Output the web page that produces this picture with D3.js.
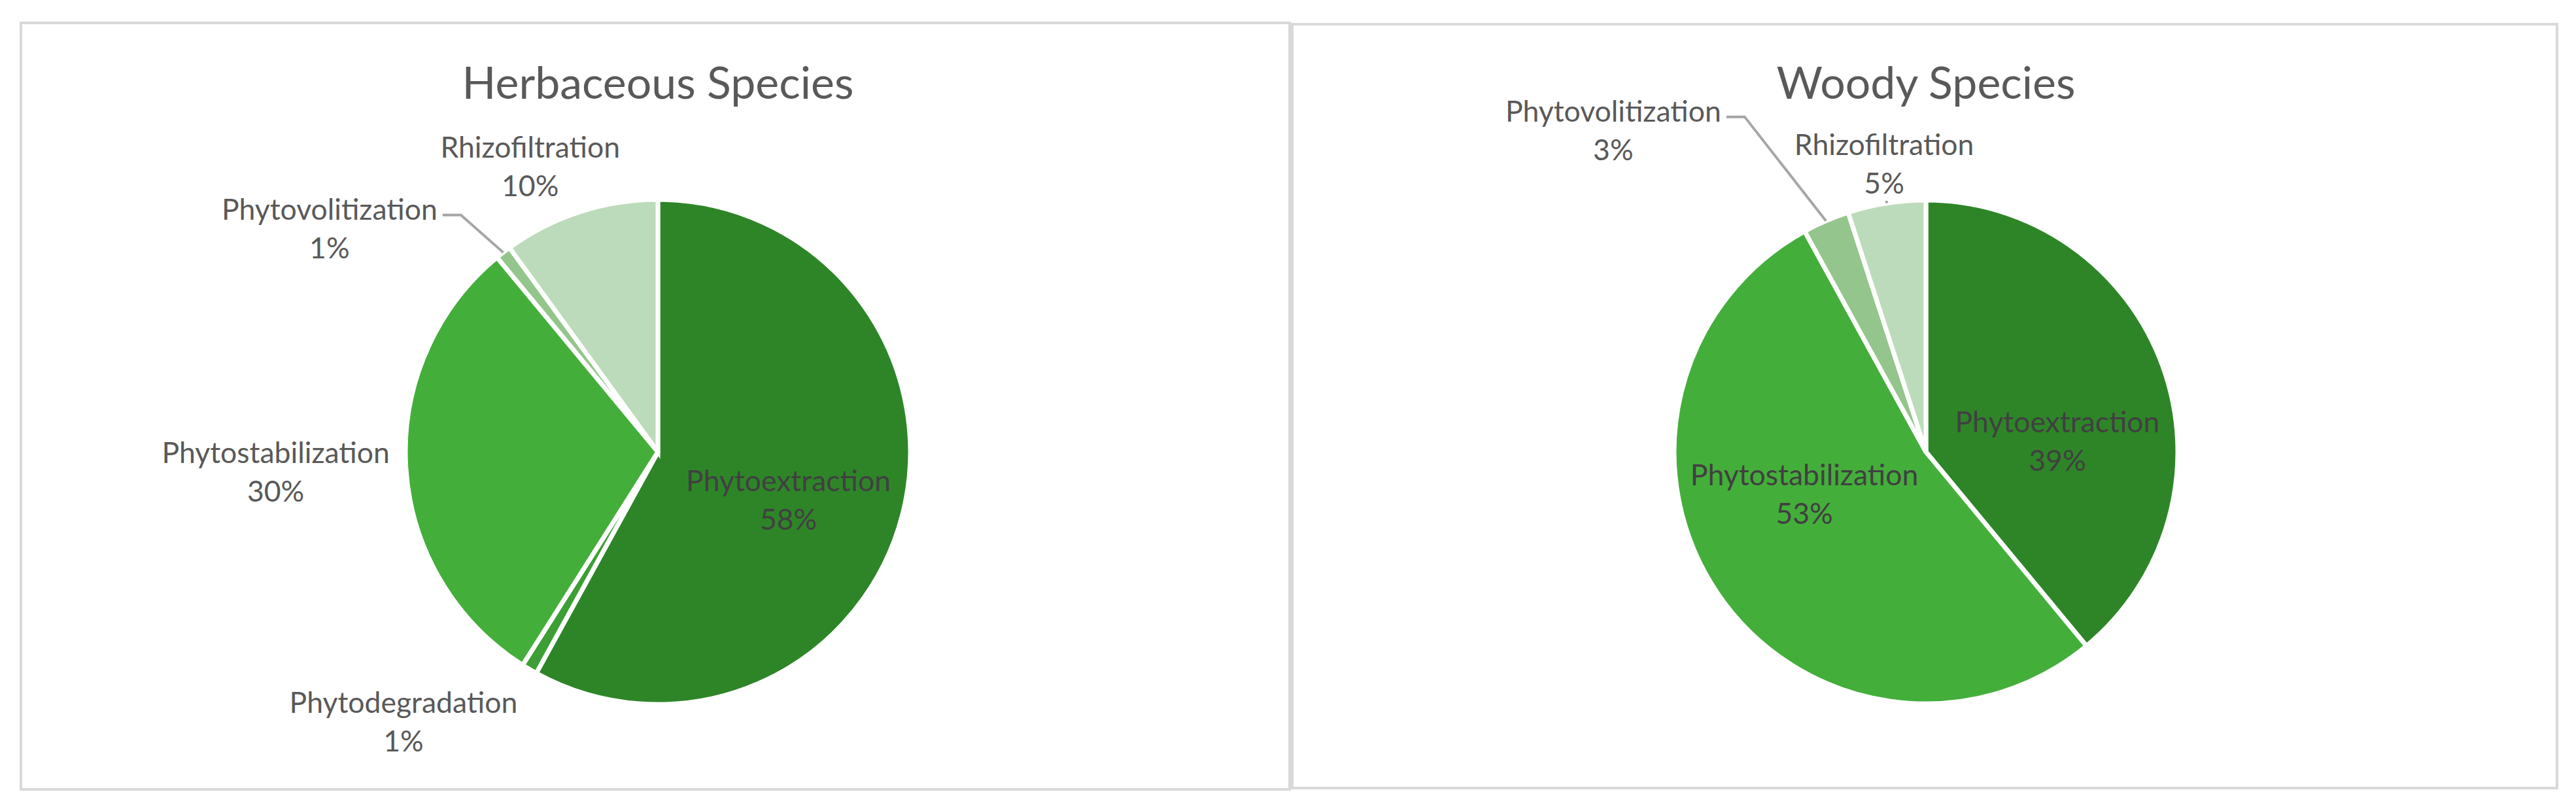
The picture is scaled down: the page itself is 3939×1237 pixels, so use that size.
<!DOCTYPE html>
<html>
<head>
<meta charset="utf-8">
<script src="https://cdn.jsdelivr.net/npm/d3@7"></script>
<style>
  html, body { margin: 0; padding: 0; background: #ffffff; }
  svg { display: block; }
  text { font-family: Lato, 'Open Sans', sans-serif; }
</style>
</head>
<body>
<div id="myDiv"></div>
<script>
//--------------------------------------------------
// Data
//--------------------------------------------------
var chartTitles = ['Herbaceous Species', 'Woody Species'];

var herbCategories = ['Phytoextraction', 'Phytodegradation', 'Phytostabilization', 'Phytovolitization', 'Rhizofiltration'];
var herbValues = [58, 1, 30, 1, 10];

var woodyCategories = ['Phytoextraction', 'Phytostabilization', 'Phytovolitization', 'Rhizofiltration'];
var woodyValues = [39, 53, 3, 5];

//--------------------------------------------------
// Properties
//--------------------------------------------------
var sliceColors = {
  'Phytoextraction': '#2E8528',
  'Phytodegradation': '#3C9E34',
  'Phytostabilization': '#44AE3B',
  'Phytovolitization': '#94C58C',
  'Rhizofiltration': '#BCDBBA'
};
var outsideLabelColor = '#595959';
var insideLabelColor = '#404040';
var leaderColor = '#A6A6A6';
var titleColor = '#595959';
var borderColor = '#D9D9D9';

var titleSize = 68;
var labelSize = 44.5;
var lineGap = 59;

// label anchors, in units of the radius, relative to the pie centre
var labelLayout = [
  {
    'Phytoextraction': { k: [0.517, 0.192], inside: true },
    'Phytodegradation': { k: [-1.008, 1.070] },
    'Phytostabilization': { k: [-1.514, 0.081] },
    'Phytovolitization': { k: [-1.301, -0.883], leader: true },
    'Rhizofiltration': { k: [-0.506, -1.130] }
  },
  {
    'Phytoextraction': { k: [0.522, -0.042], inside: true },
    'Phytostabilization': { k: [-0.483, 0.169], inside: true },
    'Phytovolitization': { k: [-1.242, -1.275], leader: true },
    'Rhizofiltration': { k: [-0.166, -1.143], stub: true }
  }
];

var width = 3939, height = 1237;

var panels = [
  { x: 32, y: 35, w: 1940, h: 1172, cx: 1006, cy: 691, r: 386 },
  { x: 1976, y: 37, w: 1934, h: 1168, cx: 2945, cy: 691, r: 385 }
];

var datasets = [
  herbCategories.map(function (c, i) { return { name: c, value: herbValues[i] }; }),
  woodyCategories.map(function (c, i) { return { name: c, value: woodyValues[i] }; })
];

var svg = d3.select('#myDiv')
  .append('svg')
    .attr('width', width)
    .attr('height', height);

var pie = d3.pie()
  .sort(null)
  .value(function (d) { return d.value; });

datasets.forEach(function (data, pi) {
  var p = panels[pi];

  svg.append('rect')
    .attr('x', p.x)
    .attr('y', p.y)
    .attr('width', p.w)
    .attr('height', p.h)
    .attr('fill', '#ffffff')
    .attr('stroke', borderColor)
    .attr('stroke-width', 4);

  var g = svg.append('g')
    .attr('transform', 'translate(' + p.cx + ',' + p.cy + ')');

  svg.append('text')
    .attr('x', p.cx)
    .attr('y', 151)
    .attr('text-anchor', 'middle')
    .attr('font-size', titleSize)
    .attr('fill', titleColor)
    .text(chartTitles[pi]);

  var arc = d3.arc().innerRadius(0).outerRadius(p.r);
  var arcs = pie(data);

  g.selectAll('path')
    .data(arcs)
    .enter()
    .append('path')
    .attr('d', arc)
    .attr('fill', function (d) { return sliceColors[d.data.name]; })
    .attr('stroke', '#ffffff')
    .attr('stroke-width', 7)
    .attr('stroke-linejoin', 'miter');

  var total = d3.sum(data, function (d) { return d.value; });

  arcs.forEach(function (d) {
    var lay = labelLayout[pi][d.data.name];
    var lx = lay.k[0] * p.r, ly = lay.k[1] * p.r;
    var pct = Math.round(d.data.value / total * 100) + '%';

    var t = g.append('text')
      .attr('text-anchor', 'middle')
      .attr('font-size', labelSize)
      .attr('fill', lay.inside ? insideLabelColor : outsideLabelColor);
    t.append('tspan')
      .attr('x', lx)
      .attr('y', ly - lineGap / 2 + labelSize * 0.35)
      .text(d.data.name);
    t.append('tspan')
      .attr('x', lx)
      .attr('y', ly + lineGap / 2 + labelSize * 0.35)
      .text(pct);

    var mid = (d.startAngle + d.endAngle) / 2;
    var ex = Math.sin(mid) * p.r, ey = -Math.cos(mid) * p.r;

    if (lay.leader) {
      var bb = t.node().getBBox();
      var sx = bb.x + bb.width + 8;
      var sy = ly - lineGap / 2 + 8;
      g.append('polyline')
        .attr('points', [[sx, sy], [sx + 28, sy], [ex, ey]].map(function (q) { return q.join(','); }).join(' '))
        .attr('fill', 'none')
        .attr('stroke', leaderColor)
        .attr('stroke-width', 4);
    }
    if (lay.stub) {
      var bb2 = t.node().getBBox();
      g.append('line')
        .attr('x1', ex)
        .attr('y1', bb2.y + bb2.height + 2)
        .attr('x2', ex)
        .attr('y2', ey)
        .attr('stroke', leaderColor)
        .attr('stroke-width', 4);
    }
  });
});
</script>
</body>
</html>
